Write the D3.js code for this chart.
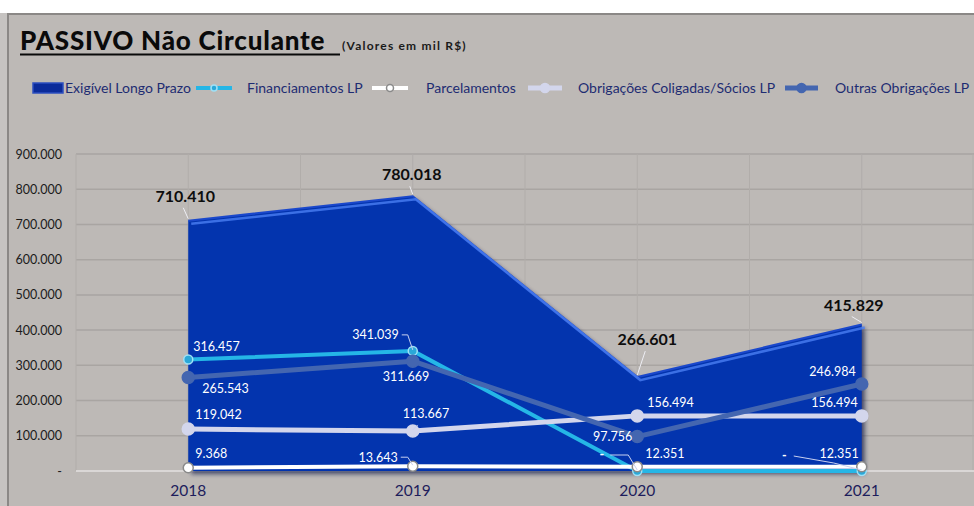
<!DOCTYPE html>
<html>
<head>
<meta charset="utf-8">
<script src="https://cdn.jsdelivr.net/npm/d3@7"></script>
<style>
  html, body { margin: 0; padding: 0; background: #fff; }
  svg { display: block; font-family: Lato, "Open Sans", sans-serif; }
</style>
</head>
<body>
<div id="chart"></div>
<script>
// valores em mil R$
const years = ["2018", "2019", "2020", "2021"];
const exigivel = [710410, 780018, 266601, 415829];
const financiamentos = [316457, 341039, 0, 0];
const parcelamentos = [9368, 13643, 12351, 12351];
const coligadas = [119042, 113667, 156494, 156494];
const outras = [265543, 311669, 97756, 246984];
const yTicks = [0, 100000, 200000, 300000, 400000, 500000, 600000, 700000, 800000, 900000];

const W = 974, H = 506;
const plotL = 76, plotR = 974, plotT = 154, plotB = 471;

const br = d3.formatLocale({decimal: ",", thousands: ".", grouping: [3], currency: ["R$", ""]});
const fmt = v => v === 0 ? "-" : br.format(",.0f")(v);

const svg = d3.select("#chart").append("svg")
  .attr("width", W).attr("height", H);

const defs = svg.append("defs");
const blur = defs.append("filter").attr("id", "shadow")
  .attr("x", "-10%").attr("y", "-10%").attr("width", "130%").attr("height", "130%");
blur.append("feGaussianBlur").attr("stdDeviation", 2);

// moldura
svg.append("rect").attr("x", 0).attr("y", 0).attr("width", W).attr("height", H).attr("fill", "#c6c3c1");
svg.append("rect").attr("x", 0).attr("y", 0).attr("width", W).attr("height", 13).attr("fill", "#ffffff");
svg.append("rect").attr("x", 8).attr("y", 14).attr("width", W).attr("height", H)
  .attr("fill", "#bdb9b6").attr("stroke", "#8b8886").attr("stroke-width", 2);

const x = d3.scaleBand().domain(years).range([plotL, plotR]);
const cx = d => x(d) + x.bandwidth() / 2;
const y = d3.scaleLinear().domain([0, 900000]).range([plotB, plotT]);

// grade
const g = svg.append("g");
g.selectAll("line.h").data(yTicks.slice(1)).enter().append("line")
  .attr("x1", plotL).attr("x2", plotR)
  .attr("y1", d => y(d)).attr("y2", d => y(d))
  .attr("stroke", "#a9a5a2").attr("stroke-width", 1.5);
const vLines = years.map(x).concat(years.map(cx)).concat([plotR - 1]);
g.selectAll("line.v").data(vLines).enter().append("line")
  .attr("x1", d => d).attr("x2", d => d)
  .attr("y1", plotT).attr("y2", plotB)
  .attr("stroke", "#b1adaa").attr("stroke-width", 1);

// eixo y
const yAxis = svg.append("g").attr("transform", `translate(62,0)`)
  .call(d3.axisLeft(y).tickValues(yTicks).tickFormat(fmt).tickSize(0).tickPadding(0));
yAxis.select(".domain").remove();
yAxis.selectAll("text").attr("font-size", 12.5).attr("fill", "#1b1b1b")
  .attr("font-family", "Lato, sans-serif");

// eixo x
const xAxis = svg.append("g").attr("transform", `translate(0,${plotB})`)
  .call(d3.axisBottom(x).tickSize(0).tickPadding(14));
xAxis.select(".domain").remove();
xAxis.selectAll("text").attr("font-size", 15.5).attr("fill", "#1d1d5c")
  .attr("font-family", "Lato, sans-serif");
svg.append("line").attr("x1", plotL).attr("x2", plotR).attr("y1", plotB).attr("y2", plotB)
  .attr("stroke", "#e4e2e0").attr("stroke-width", 1.5);

// area Exigivel Longo Prazo (com efeito de relevo)
const exData = years.map((d, i) => ({year: d, v: exigivel[i]}));
const area = d3.area().x(d => cx(d.year)).y0(plotB).y1(d => y(d.v));
const topLine = d3.line().x(d => cx(d.year)).y(d => y(d.v));
svg.append("path").datum(exData).attr("d", area)
  .attr("transform", "translate(3,3)")
  .attr("fill", "#141a48").attr("opacity", 0.7).attr("filter", "url(#shadow)");
svg.append("path").datum(exData).attr("d", area)
  .attr("fill", "#0334ae");
svg.append("path").datum(exData).attr("d", topLine)
  .attr("fill", "none").attr("stroke", "#1a48cc").attr("stroke-width", 2);
svg.append("path").datum(exData).attr("d", topLine)
  .attr("transform", "translate(3,3)")
  .attr("fill", "none").attr("stroke", "#4a7ef2").attr("stroke-width", 2.5).attr("opacity", 0.8);

// series de linha
const series = [
  {name: "Financiamentos LP", values: financiamentos, color: "#25b6e6", width: 4, r: 4.5, mfill: "#2aa8d8", mstroke: "#9fe0f5"},
  {name: "Parcelamentos", values: parcelamentos, color: "#ffffff", width: 4, r: 5, mfill: "#ffffff", mstroke: "#8a8a8a"},
  {name: "Obrigações Coligadas/Sócios LP", values: coligadas, color: "#d3d6ec", width: 5, r: 6, mfill: "#d3d6ec", mstroke: "#d3d6ec"},
  {name: "Outras Obrigações LP", values: outras, color: "#4466b0", width: 5, r: 6, mfill: "#4466b0", mstroke: "#4466b0"}
];

const line = d3.line().x(d => cx(d.year)).y(d => y(d.v));
series.forEach(s => {
  const data = years.map((d, i) => ({year: d, v: s.values[i]}));
  svg.append("path").datum(data).attr("d", line)
    .attr("fill", "none").attr("stroke", s.color).attr("stroke-width", s.width)
    .attr("stroke-linejoin", "round");
  svg.selectAll(null).data(data).enter().append("circle")
    .attr("cx", d => cx(d.year)).attr("cy", d => y(d.v)).attr("r", s.r)
    .attr("fill", s.mfill).attr("stroke", s.mstroke).attr("stroke-width", 1.5);
});

// rótulos: deslocamento em relação ao ponto
const exLabelPos = [[-3, -19], [-1, -16], [10, -32], [-8, -14]];
const labelPos = [
  [[5, -9, "start"], [-14, -12, "end"], [-33, -12, "end"], [-75, -11, "end"]],
  [[7, -10, "start"], [-15, -4, "end"], [8, -9, "start"], [-3, -9, "end"]],
  [[7, -10, "start"], [-10, -13, "start"], [10, -9, "start"], [-4, -9, "end"]],
  [[14, 16, "start"], [-30, 20, "start"], [-5, 4.5, "end"], [-6, -8, "end"]]
];
const leaders = [
  [null, [[-11, -16], [-5, -16], [0, -1]], [[-27, -16], [-9, -16], [0, -1]], [[-68, -15], [-28, -8], [0, -1]]],
  [null, [[-12, -9], [-5, -9], [0, -1]], null, null],
  [null, [[5, -6], [0, -1]], null, null],
  [null, null, null, null]
];

const lab = svg.append("g");
exData.forEach((d, i) => {
  const px = cx(d.year), py = y(d.v);
  lab.append("line")
    .attr("x1", px + exLabelPos[i][0] - 2).attr("y1", py + exLabelPos[i][1] + 6)
    .attr("x2", px).attr("y2", py - 2)
    .attr("stroke", "#eeeef4").attr("stroke-width", 1);
  lab.append("text").attr("x", px + exLabelPos[i][0]).attr("y", py + exLabelPos[i][1])
    .attr("text-anchor", "middle").attr("font-size", 16).attr("font-weight", 700)
    .attr("fill", "#0d0d0d").text(fmt(d.v));
});

series.forEach((s, si) => {
  years.forEach((yr, i) => {
    const px = cx(yr), py = y(s.values[i]);
    const p = labelPos[si][i];
    const ld = leaders[si][i];
    if (ld) {
      lab.append("polyline")
        .attr("points", ld.map(q => (px + q[0]) + "," + (py + q[1])).join(" "))
        .attr("fill", "none").attr("stroke", "#c8d0f0").attr("stroke-width", 1);
    }
    lab.append("text").attr("x", px + p[0]).attr("y", py + p[1])
      .attr("text-anchor", p[2]).attr("font-size", 12.5)
      .attr("font-weight", s.values[i] === 0 ? 700 : 400)
      .attr("fill", "#ffffff").text(fmt(s.values[i]));
  });
});

// título
svg.append("text").attr("x", 20).attr("y", 50)
  .attr("font-size", 26).attr("font-weight", 900).attr("letter-spacing", 0.8).attr("fill", "#0a0a0a")
  .text("PASSIVO Não Circulante");
svg.append("line").attr("x1", 20).attr("x2", 340).attr("y1", 54.5).attr("y2", 54.5)
  .attr("stroke", "#0a0a0a").attr("stroke-width", 2);
svg.append("text").attr("x", 342).attr("y", 50)
  .attr("font-size", 12).attr("font-weight", 700).attr("letter-spacing", 1.2).attr("fill", "#1a1a1a")
  .text("(Valores em mil R$)");

// legenda
const legY = 88;
const legText = "#1e2c72";
const leg = svg.append("g").attr("font-size", 14).attr("fill", legText);
leg.append("rect").attr("x", 33).attr("y", legY - 5).attr("width", 30).attr("height", 10)
  .attr("fill", "#0b2b9a").attr("stroke", "#2d4fc0").attr("stroke-width", 1.5);
leg.append("text").attr("x", 65).attr("y", legY + 5).text("Exigível Longo Prazo");
const legItems = [[196, 232, 247], [372, 408, 426], [528, 562, 578], [785, 818, 835]];
series.forEach((s, si) => {
  const it = legItems[si];
  leg.append("line").attr("x1", it[0]).attr("x2", it[1]).attr("y1", legY).attr("y2", legY)
    .attr("stroke", s.color).attr("stroke-width", s.width);
  leg.append("circle").attr("cx", (it[0] + it[1]) / 2).attr("cy", legY).attr("r", s.r - 1.5)
    .attr("fill", s.mfill).attr("stroke", s.mstroke).attr("stroke-width", 1.5);
  leg.append("text").attr("x", it[2]).attr("y", legY + 5).text(s.name);
});
</script>
</body>
</html>
